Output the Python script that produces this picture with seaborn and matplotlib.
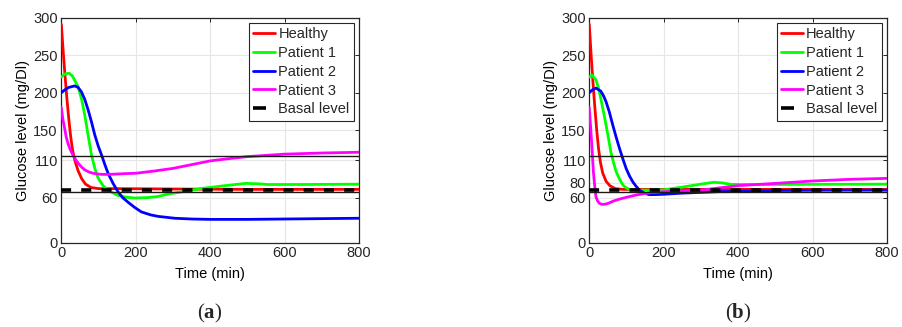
import numpy as np
import pandas as pd
import matplotlib
matplotlib.use("Agg")
import matplotlib.pyplot as plt
import seaborn as sns
from matplotlib.lines import Line2D

# ---------------- data ----------------
series_names = ["Healthy", "Patient 1", "Patient 2", "Patient 3"]
series_colors = ["#ff0000", "#00ff00", "#0000ff", "#ff00ff"]

# panel (a)
a_healthy_t = [0, 5, 10, 15, 20, 25, 30, 36, 45, 55, 65, 80, 100, 150, 300, 500, 800]
a_healthy_v = [291, 255, 222, 192, 165, 142, 124, 110, 96, 85, 78, 73.5, 72, 72, 71.5, 71, 71]
a_p1_t = [0, 10, 21, 30, 45, 55, 63, 72, 81, 90, 99, 112, 126, 140, 152, 175, 197, 230, 260, 284, 314, 374, 440, 495, 530, 553, 650, 800]
a_p1_v = [221, 225, 226, 222, 208, 190, 170, 143, 117, 99, 86, 76, 70, 66, 63, 60.5, 59.5, 60, 61.5, 64.5, 67, 72, 76, 79, 78.5, 77.5, 77.5, 78]
a_p2_t = [0, 10, 20, 36, 45, 54, 63, 72, 81, 90, 99, 108, 117, 126, 139, 152, 165, 179, 197, 215, 240, 260, 305, 350, 400, 500, 600, 800]
a_p2_v = [200, 204, 207, 209, 207, 201, 191, 177, 161, 143.5, 129, 117, 104, 92, 79, 68, 60, 54, 47, 41, 37, 35, 32.5, 31.5, 31, 31, 31.5, 32.5]
a_p3_t = [0, 4, 9, 13, 18, 24, 31, 38, 45, 54, 63, 75, 90, 108, 126, 150, 170, 200, 250, 300, 350, 400, 450, 500, 600, 700, 800]
a_p3_v = [180, 165, 152, 141, 132, 124, 117, 111, 106, 101, 97, 94, 92, 91, 91, 91.5, 92, 92.5, 95.5, 99, 104, 109, 112, 114.7, 118, 119.5, 120.5]

# panel (b)
b_healthy_t = [0, 5, 10, 15, 20, 25, 30, 36, 45, 55, 70, 90, 150, 400, 800]
b_healthy_v = [291, 250, 213, 180, 150, 125, 107, 93, 82, 76, 72, 71, 71, 71, 71]
b_p1_t = [0, 7, 18, 25, 31, 38, 45, 52, 58, 65, 72, 81, 90, 99, 108, 125, 143, 200, 250, 300, 335, 360, 380, 450, 500, 650, 800]
b_p1_v = [221, 223.5, 217, 206, 192, 175, 157, 138, 121, 107, 95, 85, 77, 73, 71, 70, 70, 70.5, 74, 78, 80.5, 79.5, 77.6, 77.5, 77.6, 77.8, 78]
b_p2_t = [0, 9, 18, 31, 38, 45, 54, 63, 72, 81, 90, 99, 108, 117, 126, 135, 148, 161, 175, 200, 250, 350, 500, 650, 800]
b_p2_v = [200, 204, 206, 202, 196, 188, 174, 157, 141, 126, 112, 99, 89, 81, 75, 70, 66, 64, 64, 64.5, 66, 68, 69.5, 70, 70]
b_p3_t = [0, 2, 4.5, 7, 9, 11, 13.5, 16, 18, 22, 27, 33, 40, 47, 54, 65, 81, 100, 126, 150, 170, 200, 250, 300, 400, 500, 600, 700, 800]
b_p3_v = [180, 166, 148, 129, 112, 95, 81, 69, 61, 56, 52.5, 51.2, 51, 51.8, 53, 55.5, 58, 60.5, 63.5, 65.5, 67, 68, 69, 70, 76, 79, 82.2, 84.4, 85.7]

basal_t = [0, 800]
basal_v = [70, 70]
band_lines = [115, 68]

a_yticks = [0, 60, 110, 150, 200, 250, 300]
b_yticks = [0, 60, 80, 110, 150, 200, 250, 300]
xticks = [0, 200, 400, 600, 800]

panels = [
    ("a", [(a_healthy_t, a_healthy_v), (a_p1_t, a_p1_v), (a_p2_t, a_p2_v), (a_p3_t, a_p3_v)], a_yticks),
    ("b", [(b_healthy_t, b_healthy_v), (b_p1_t, b_p1_v), (b_p2_t, b_p2_v), (b_p3_t, b_p3_v)], b_yticks),
]

# ---------------- style ----------------
sns.set_theme(style="white")
plt.rcParams["font.family"] = ["Liberation Sans", "DejaVu Sans"]
plt.rcParams["mathtext.fontset"] = "custom"
plt.rcParams["mathtext.rm"] = "Liberation Serif"
plt.rcParams["mathtext.bf"] = "Liberation Serif:bold"

fig = plt.figure(figsize=(9.02, 3.27), dpi=100)
axes_pos = [[0.068, 0.258, 0.330, 0.688], [0.6533, 0.258, 0.330, 0.688]]
text_col = "#262626"
fs = 10.5
dash = (2.8, 2.8)

for (letter, curves, yticks), pos in zip(panels, axes_pos):
    ax = fig.add_axes(pos)
    rows = []
    for name, (t, v) in zip(series_names, curves):
        for ti, vi in zip(t, v):
            rows.append((name, ti, vi))
    df = pd.DataFrame(rows, columns=["series", "time", "glucose"])

    for y in band_lines:
        ax.axhline(y, color="#1a1a1a", lw=1.0, zorder=4)

    sns.lineplot(data=df, x="time", y="glucose", hue="series", hue_order=series_names,
                 palette=series_colors, linewidth=2.0, estimator=None, sort=False,
                 legend=False, ax=ax, zorder=3)
    bdf = pd.DataFrame({"time": basal_t, "glucose": basal_v})
    sns.lineplot(data=bdf, x="time", y="glucose", color="black", linewidth=2.6,
                 dashes=False, ax=ax, zorder=5)
    bl = ax.get_lines()[-1]
    bl.set_dashes(dash)

    ax.set_xlim(0, 800)
    ax.set_ylim(0, 300)
    ax.set_xticks(xticks)
    ax.set_yticks(yticks)
    ax.grid(True, color="#e6e6e6", lw=0.8, zorder=0)
    ax.set_axisbelow(True)
    ax.tick_params(direction="in", length=3, width=0.7, top=True, right=True,
                   labelsize=fs, colors=text_col, pad=2.5)
    for s in ax.spines.values():
        s.set_color(text_col)
        s.set_linewidth(0.9)
        s.set_visible(True)
    ax.set_xlabel("Time (min)", fontsize=fs, color="black", labelpad=5)
    ax.set_ylabel("Glucose level (mg/Dl)", fontsize=fs, color="black", labelpad=2)

    handles = [Line2D([], [], color=c, lw=2.0) for c in series_colors]
    handles.append(Line2D([], [], color="black", lw=2.6, dashes=(3.6, 3.6)))
    leg = ax.legend(handles, series_names + ["Basal level"], loc="upper right",
                    fontsize=fs, frameon=True, fancybox=False, framealpha=1,
                    edgecolor="#262626", handlelength=1.45, handletextpad=0.25,
                    labelspacing=0.33, borderpad=0.3, borderaxespad=0.35)
    leg.get_frame().set_linewidth(0.8)

    cx = pos[0] + pos[2] * 0.5
    fig.text(cx, 1 - 313 / 327, r"($\mathbf{%s}$)" % letter, ha="center", va="center",
             fontsize=15, family="Liberation Serif")

fig.savefig("out.png", dpi=100)
